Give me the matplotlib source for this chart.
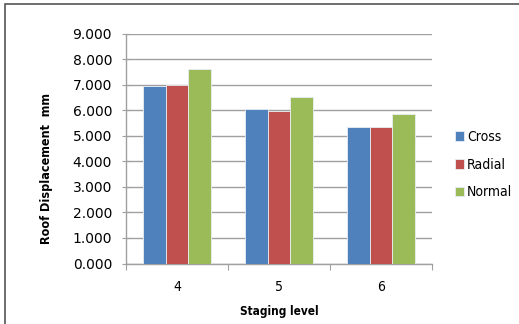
import matplotlib
matplotlib.use('Agg')
import matplotlib.pyplot as plt
from matplotlib.patches import Rectangle
import numpy as np

plt.rcParams['font.family'] = ['DejaVu Sans']
plt.rcParams['font.stretch'] = 'condensed'

levels = ['4', '5', '6']
series = ['Cross', 'Radial', 'Normal']
cross = [6.96, 6.03, 5.35]
radial = [6.97, 5.98, 5.35]
normal = [7.61, 6.53, 5.84]
colors = ['#4F81BD', '#C0504D', '#9BBB59']

fig = plt.figure(figsize=(5.19, 3.24), dpi=100)
ax = fig.add_axes([0.2428, 0.1867, 0.5896, 0.7099])

x = np.arange(len(levels))
w = 1 / 4.5
for i, (vals, c, name) in enumerate(zip([cross, radial, normal], colors, series)):
    ax.bar(x + (i - 1) * w, vals, w, color=c, edgecolor='#e8eef4', linewidth=0.6,
           label=name, zorder=3)

ax.set_xlim(-0.5, 2.5)
ax.set_ylim(0, 9)
ax.set_yticks(np.arange(0, 10, 1))
ax.set_yticklabels(['%.3f' % v for v in np.arange(0, 10, 1)], fontsize=10, fontstretch='normal')
ax.yaxis.grid(True, color='#a0a0a0', linewidth=1.0, zorder=0)
ax.tick_params(axis='y', direction='inout', length=6, color='#a0a0a0', pad=7)

# boundaries get the tick marks, category centres get the labels
ax.set_xticks([-0.5, 0.5, 1.5, 2.5])
ax.set_xticklabels([])
ax.tick_params(axis='x', which='major', length=4, color='#a0a0a0')
ax.set_xticks(x, minor=True)
ax.set_xticklabels(levels, minor=True, fontsize=10)
ax.tick_params(axis='x', which='minor', length=0, pad=12)

for side in ['top', 'right']:
    ax.spines[side].set_visible(False)
for side in ['left', 'bottom']:
    ax.spines[side].set_color('#a0a0a0')
    ax.spines[side].set_linewidth(1.0)

ax.set_xlabel('Staging level', fontsize=8.5, fontweight='bold')
ax.set_ylabel('Roof Displacement  mm', fontsize=9, fontweight='bold')
ax.xaxis.set_label_coords(0.5, -0.18)
ax.yaxis.set_label_coords(-0.24, 0.415)

leg = ax.legend(loc='center left', bbox_to_anchor=(0.852, 0.492), bbox_transform=fig.transFigure,
                frameon=False, fontsize=10, handlelength=0.7, handleheight=0.7,
                handletextpad=0.2, labelspacing=1.0)

# outer chart frame
fig.patches.append(Rectangle((5 / 519, -0.1), 1.2, 1.1 - 4 / 324, transform=fig.transFigure,
                             fill=False, edgecolor='#555555', linewidth=1.2))

fig.savefig('out.png', dpi=100)
